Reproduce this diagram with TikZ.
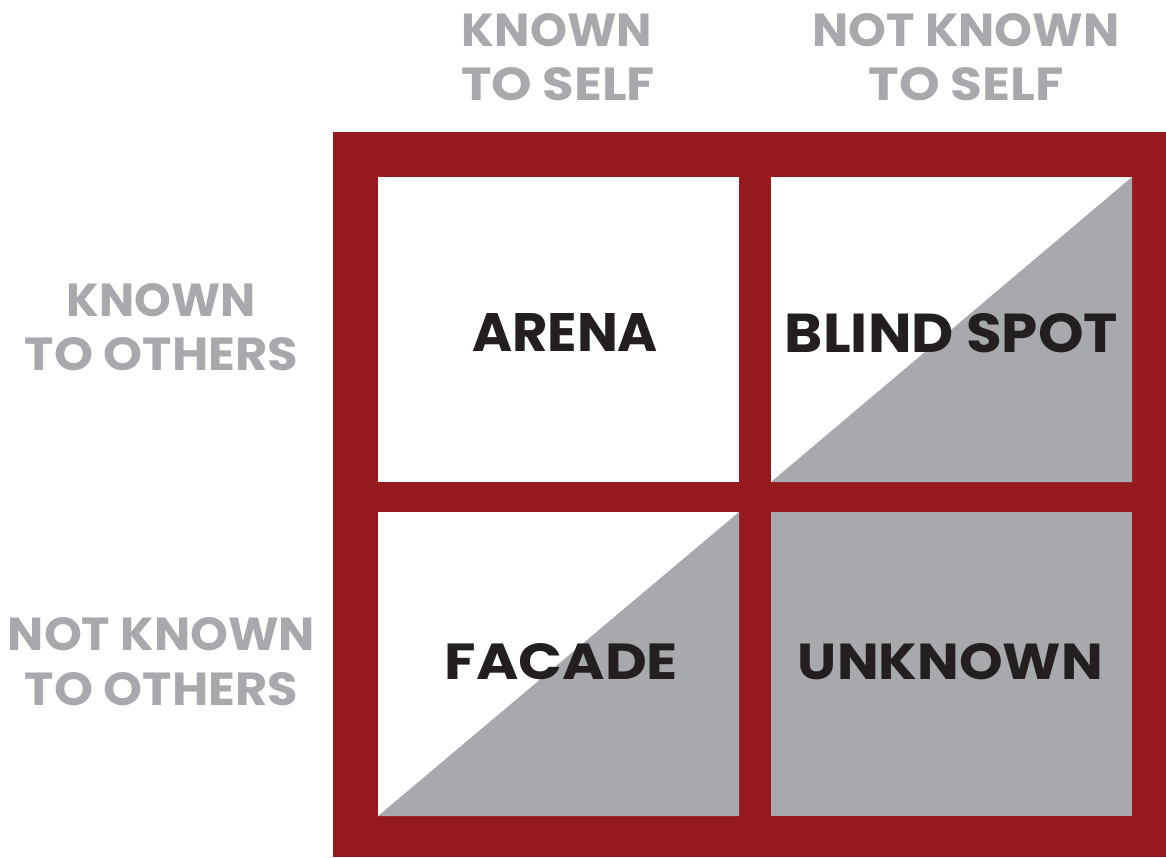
\documentclass[tikz,border=0pt]{standalone}
\usepackage{fontspec}
\setmainfont{Poppins}
\usepackage{graphicx}
\definecolor{jred}{HTML}{96191E}
\definecolor{jgray}{HTML}{A7A9AC}
\definecolor{jdark}{HTML}{231F20}
\newcommand\fitw[3]{\resizebox{#1pt}{#2pt}{\bfseries #3}}
\tikzset{
  quadlabel/.style={anchor=base, inner sep=0pt, text=jdark},
  axislabel/.style={anchor=base, inner sep=0pt, text=jgray},
}
\begin{document}
\begin{tikzpicture}[x=1pt,y=-1pt]
\useasboundingbox (0,0) rectangle (1166,857);
% frame
\fill[jred] (333,132) rectangle (1166,857);
% cells
\fill[white] (378,177) rectangle (739,482);
\fill[white] (771,177) rectangle (1132,482);
\fill[jgray] (771,482) -- (1132,177) -- (1132,482) -- cycle;
\fill[white] (378,512) rectangle (739,816);
\fill[jgray] (378,816) -- (739,512) -- (739,816) -- cycle;
\fill[jgray] (771,512) rectangle (1132,816);
% quadrant labels
\node[quadlabel] (arena) at (565,351) {\fitw{186}{38}{ARENA}};
\node[quadlabel] (blind) at (951.5,352) {\fitw{333}{39}{BLIND SPOT}};
\node[quadlabel] (facade) at (561.5,679) {\fitw{233}{36}{FACADE}};
\node[quadlabel] (unknown) at (950.5,679) {\fitw{305}{36}{UNKNOWN}};
% top labels
\node[axislabel] (ks1) at (557,46) {\fitw{190}{33}{KNOWN}};
\node[axislabel] (ks2) at (558,100) {\fitw{194}{33}{TO SELF}};
\node[axislabel] (nks1) at (966,46) {\fitw{307}{33}{NOT KNOWN}};
\node[axislabel] (nks2) at (966,100) {\fitw{195}{33}{TO SELF}};
% left labels
\node[axislabel] (ko1) at (161.5,316) {\fitw{189}{33}{KNOWN}};
\node[axislabel] (ko2) at (161.5,370) {\fitw{273}{33}{TO OTHERS}};
\node[axislabel] (nko1) at (161.5,650) {\fitw{307}{33}{NOT KNOWN}};
\node[axislabel] (nko2) at (161.5,705) {\fitw{273}{33}{TO OTHERS}};
\end{tikzpicture}
\end{document}
